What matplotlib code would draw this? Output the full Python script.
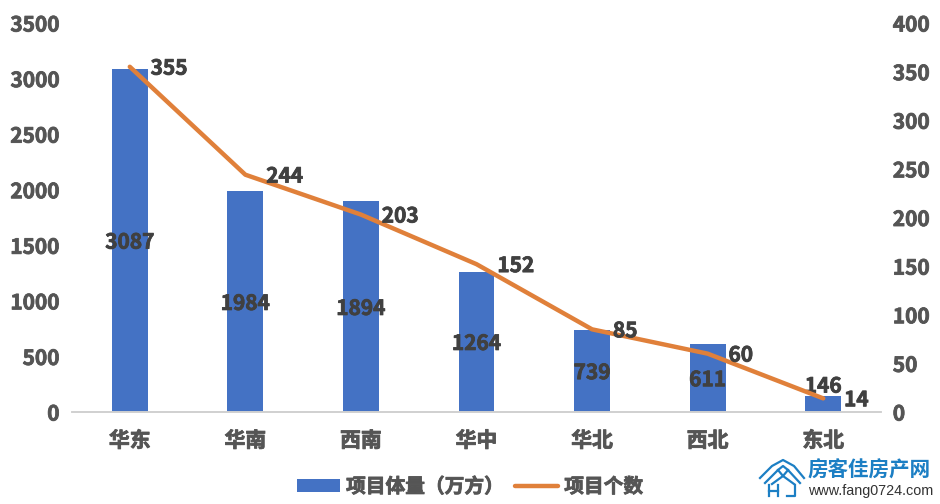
import matplotlib
matplotlib.use('Agg')
import matplotlib.pyplot as plt
import matplotlib.patheffects as pe
from matplotlib.lines import Line2D

plt.rcParams['font.family'] = ['Noto Sans CJK SC', 'DejaVu Sans']

regions = ['华东', '华南', '西南', '华中', '华北', '西北', '东北']
volume = [3087, 1984, 1894, 1264, 739, 611, 146]
counts = [355, 244, 203, 152, 85, 60, 14]
left_ticks = [0, 500, 1000, 1500, 2000, 2500, 3000, 3500]
right_ticks = [0, 50, 100, 150, 200, 250, 300, 350, 400]

W, H = 940, 504
text_color = '#555555'
label_color = '#404040'
bar_color = '#4472C4'
line_color = '#E0803A'
logo_color = '#1C7FC4'

# the bold face alone is too light for these labels
def heavy(color):
    return [pe.withStroke(linewidth=0.6, foreground=color)]

fig = plt.figure(figsize=(W / 100, H / 100), dpi=100)
ax = fig.add_axes([72 / W, 1 - 412 / H, (881 - 72) / W, 389 / H])
ax2 = ax.twinx()

x = list(range(len(regions)))
bars = ax.bar(x, volume, width=0.31, color=bar_color, zorder=2)
line, = ax2.plot(x, counts, color=line_color, lw=3.2, solid_capstyle='round', zorder=3)

ax.set_xlim(-0.5, len(regions) - 0.5)
ax.set_ylim(0, 3500)
ax2.set_ylim(0, 400)
ax.set_xticks(x)
ax.set_xticklabels(regions, fontsize=15, fontweight='bold', color=text_color)
ax.set_yticks(left_ticks)
ax2.set_yticks(right_ticks)
ax.tick_params(axis='x', length=0, pad=13)
ax.tick_params(axis='y', length=0, pad=9, labelsize=15, labelcolor=text_color)
ax2.tick_params(axis='y', length=0, pad=8.5, labelsize=15, labelcolor=text_color)
for a in (ax, ax2):
    for lab in a.get_yticklabels() + a.get_xticklabels():
        lab.set_fontweight('bold')
        lab.set_path_effects(heavy(text_color))
    for s in ('top', 'left', 'right'):
        a.spines[s].set_visible(False)
    a.spines['bottom'].set_color('#D0D0D0')
    a.spines['bottom'].set_linewidth(1.2)

ax2.set_zorder(ax.get_zorder() + 1)
ax2.patch.set_visible(False)

# bar values sit mid-bar, the smallest one is lifted above its bar
for i, v in enumerate(volume):
    if v < 200:
        t = ax.annotate(str(v), (i, v), xytext=(0, 7), textcoords='offset points',
                        ha='center', va='center', fontsize=15, fontweight='bold',
                        color=label_color, zorder=5)
    else:
        t = ax.annotate(str(v), (i, v / 2), xytext=(0, -1.2), textcoords='offset points',
                        ha='center', va='center', fontsize=15,
                        fontweight='bold', color=label_color, zorder=5)
    t.set_path_effects(heavy(label_color))
for i, c in enumerate(counts):
    t = ax2.annotate(str(c), (i, c), xytext=(15, -1), textcoords='offset points',
                     ha='left', va='center', fontsize=15, fontweight='bold',
                     color=label_color, zorder=5)
    t.set_path_effects(heavy(label_color))

leg = fig.legend(handles=[bars, line], labels=['项目体量（万方）', '项目个数'], ncols=2,
                 loc='center', bbox_to_anchor=(470 / W, 1 - 487 / H), frameon=False,
                 prop={'size': 14.2, 'weight': 'bold'}, labelcolor=text_color,
                 handlelength=2.2, handleheight=0.6, handletextpad=0.3, columnspacing=0.55)
for t in leg.get_texts():
    t.set_path_effects(heavy(text_color))

# site mark in the lower right corner, drawn in pixel coordinates
def px(xs, ys):
    return [v / W for v in xs], [1 - v / H for v in ys]

logo_paths = [
    ([760, 772, 783, 794, 804], [478, 466, 460, 466, 478]),
    ([765, 778, 783, 788, 800], [483, 470, 466, 470, 483]),
    ([778, 783, 772], [470, 476, 484]),
    ([788, 783, 794], [470, 476, 484]),
    ([769, 769], [485, 496]),
    ([778, 778], [485, 496]),
    ([769, 778], [491, 491]),
    ([795, 795, 787], [485, 496, 496]),
]
for xs, ys in logo_paths:
    fx, fy = px(xs, ys)
    fig.add_artist(Line2D(fx, fy, color=logo_color, lw=1.6))
fig.text(808 / W, 1 - 470 / H, '房客佳房产网', fontsize=14.8, fontweight='bold',
         color=logo_color, ha='left', va='center')
fig.text(808 / W, 1 - 491 / H, 'www.fang0724.com', fontsize=10.4, color='#333333',
         family='Liberation Sans', ha='left', va='center')

fig.savefig('out.png', dpi=100)
